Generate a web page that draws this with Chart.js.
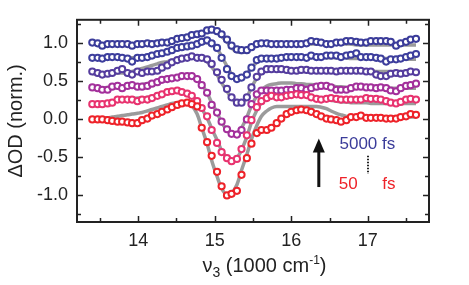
<!DOCTYPE html>
<html>
<head>
<meta charset="utf-8">
<script src="https://cdn.jsdelivr.net/npm/chart.js@4.4.1/dist/chart.umd.min.js"></script>
<style>
  html, body { margin: 0; background: #fff; }
  #wrap { width: 469px; height: 285px; }
</style>
</head>
<body>
<div id="wrap"><canvas id="chart"></canvas></div>
<script>
// wavenumber axis, 1000 cm-1
const wavenumbers = [13.40,13.47,13.53,13.60,13.66,13.73,13.79,13.86,13.92,13.99,
  14.05,14.12,14.18,14.25,14.31,14.38,14.44,14.51,14.57,14.64,
  14.70,14.77,14.83,14.90,14.96,15.03,15.09,15.16,15.22,15.29,
  15.35,15.42,15.48,15.55,15.61,15.68,15.74,15.81,15.87,15.94,
  16.00,16.07,16.13,16.20,16.26,16.33,16.39,16.46,16.52,16.59,
  16.65,16.72,16.78,16.85,16.91,16.98,17.04,17.11,17.17,17.24,
  17.30,17.37,17.43,17.50,17.56,17.63];

// measured traces (offset in the figure), bottom = 50 fs, top = 5000 fs
const trace50 = [-0.01,-0.01,-0.01,-0.02,-0.03,-0.04,-0.04,-0.05,-0.06,-0.06,
  -0.02,0.00,0.04,0.06,0.09,0.12,0.15,0.18,0.20,0.21,
  0.19,0.16,-0.12,-0.31,-0.49,-0.70,-0.89,-1.01,-0.99,-0.95,
  -0.74,-0.52,-0.33,-0.19,-0.15,-0.15,-0.12,-0.06,0.00,0.06,
  0.09,0.11,0.12,0.11,0.09,0.06,0.03,0.00,-0.01,-0.02,
  -0.04,-0.02,0.02,0.02,0.04,0.01,0.01,0.01,0.01,0.00,
  0.00,0.00,0.02,0.03,0.06,0.05];
const trace2 = [0.19,0.19,0.19,0.20,0.21,0.25,0.25,0.25,0.25,0.23,
  0.25,0.25,0.27,0.30,0.32,0.35,0.36,0.37,0.35,0.33,
  0.30,0.23,0.14,0.03,-0.15,-0.32,-0.44,-0.52,-0.56,-0.53,
  -0.40,-0.22,-0.02,0.15,0.23,0.27,0.30,0.28,0.28,0.30,
  0.31,0.32,0.31,0.31,0.28,0.26,0.25,0.26,0.27,0.26,
  0.25,0.25,0.25,0.25,0.25,0.27,0.26,0.26,0.25,0.23,
  0.21,0.20,0.22,0.25,0.26,0.25];
const trace3 = [0.41,0.40,0.38,0.38,0.42,0.43,0.40,0.43,0.44,0.42,
  0.42,0.43,0.46,0.48,0.51,0.52,0.53,0.54,0.56,0.56,
  0.56,0.52,0.44,0.34,0.18,0.08,-0.04,-0.14,-0.20,-0.21,
  -0.15,-0.01,0.19,0.32,0.37,0.37,0.37,0.37,0.37,0.38,
  0.38,0.40,0.40,0.38,0.40,0.42,0.43,0.43,0.41,0.38,
  0.38,0.38,0.40,0.42,0.42,0.41,0.41,0.40,0.41,0.40,
  0.37,0.36,0.40,0.43,0.44,0.46];
const trace4 = [0.62,0.60,0.58,0.59,0.60,0.63,0.65,0.60,0.58,0.62,
  0.60,0.62,0.62,0.63,0.67,0.70,0.74,0.77,0.79,0.80,
  0.82,0.80,0.80,0.78,0.72,0.61,0.51,0.39,0.28,0.21,
  0.21,0.28,0.41,0.55,0.62,0.65,0.65,0.65,0.65,0.64,
  0.63,0.63,0.64,0.64,0.63,0.63,0.63,0.63,0.63,0.62,
  0.63,0.63,0.63,0.63,0.63,0.62,0.62,0.58,0.56,0.56,
  0.59,0.60,0.59,0.60,0.62,0.61];
const trace5 = [0.80,0.80,0.79,0.81,0.81,0.81,0.80,0.79,0.75,0.80,
  0.80,0.81,0.83,0.85,0.86,0.88,0.90,0.93,0.94,0.95,
  0.96,0.98,1.01,1.03,0.99,0.93,0.80,0.65,0.56,0.52,
  0.54,0.58,0.67,0.77,0.79,0.79,0.79,0.79,0.80,0.81,
  0.81,0.81,0.81,0.80,0.83,0.81,0.81,0.83,0.83,0.83,
  0.81,0.83,0.84,0.86,0.81,0.81,0.81,0.80,0.79,0.75,
  0.78,0.78,0.79,0.81,0.83,0.85];
const trace5000 = [1.00,0.99,0.96,0.98,0.98,0.98,0.98,0.98,0.96,0.98,
  0.98,0.99,0.98,0.99,1.00,1.00,1.02,1.05,1.06,1.07,
  1.10,1.11,1.12,1.16,1.17,1.15,1.11,1.04,0.96,0.91,
  0.90,0.90,0.94,0.98,0.99,0.99,0.98,0.98,0.98,0.98,
  0.98,0.98,0.98,0.99,1.02,1.01,1.00,0.98,0.98,1.00,
  1.00,1.02,1.02,1.01,1.00,1.00,1.02,1.02,1.02,1.02,
  1.01,0.96,0.99,1.01,1.04,1.05];

// fitted curves (grey)
const fit50 = [0.00,0.00,0.01,0.01,0.02,0.03,0.04,0.05,0.06,0.07,
  0.08,0.10,0.12,0.14,0.16,0.18,0.20,0.21,0.22,0.21,
  0.17,0.06,-0.12,-0.33,-0.55,-0.76,-0.92,-1.00,-0.98,-0.87,
  -0.68,-0.47,-0.27,-0.09,0.03,0.10,0.14,0.16,0.16,0.16,
  0.16,0.16,0.16,0.16,0.16,0.16,0.15,0.13,0.10,0.07,
  0.05,0.03,0.02,0.02,0.02,0.02,0.02,0.02,0.02,0.02,
  0.02,0.02,0.02,0.02,0.02,0.02];
const fit2 = [0.19,0.19,0.20,0.21,0.22,0.23,0.24,0.25,0.26,0.27,
  0.27,0.28,0.29,0.31,0.33,0.35,0.36,0.37,0.36,0.34,
  0.30,0.23,0.13,0.01,-0.13,-0.28,-0.42,-0.51,-0.55,-0.52,
  -0.41,-0.24,-0.05,0.11,0.21,0.27,0.30,0.31,0.31,0.31,
  0.31,0.30,0.30,0.29,0.28,0.27,0.26,0.25,0.24,0.23,
  0.22,0.22,0.21,0.21,0.21,0.21,0.20,0.20,0.20,0.20,
  0.20,0.20,0.20,0.20,0.20,0.20];
const fit3 = [0.39,0.40,0.40,0.41,0.41,0.42,0.42,0.43,0.43,0.44,
  0.45,0.46,0.47,0.48,0.50,0.51,0.53,0.54,0.55,0.56,
  0.55,0.52,0.45,0.34,0.21,0.08,-0.05,-0.15,-0.20,-0.19,
  -0.12,0.02,0.17,0.30,0.38,0.43,0.45,0.46,0.47,0.47,
  0.47,0.46,0.46,0.45,0.45,0.44,0.44,0.43,0.43,0.42,
  0.42,0.41,0.41,0.40,0.40,0.40,0.40,0.40,0.40,0.40,
  0.40,0.40,0.40,0.40,0.40,0.40];
const fit4 = [0.59,0.59,0.59,0.59,0.60,0.60,0.60,0.61,0.62,0.64,
  0.66,0.68,0.70,0.72,0.74,0.75,0.77,0.78,0.79,0.80,
  0.80,0.80,0.79,0.75,0.68,0.58,0.47,0.36,0.27,0.21,
  0.21,0.28,0.41,0.53,0.60,0.63,0.64,0.64,0.64,0.64,
  0.64,0.64,0.64,0.64,0.64,0.64,0.63,0.63,0.63,0.63,
  0.63,0.63,0.63,0.63,0.63,0.63,0.63,0.62,0.62,0.62,
  0.62,0.62,0.62,0.62,0.62,0.62];
const fit5 = [0.79,0.79,0.79,0.80,0.80,0.80,0.80,0.80,0.80,0.81,
  0.81,0.82,0.83,0.84,0.86,0.87,0.89,0.91,0.93,0.95,
  0.96,0.98,0.99,1.00,0.98,0.92,0.82,0.69,0.59,0.54,
  0.54,0.59,0.67,0.74,0.78,0.80,0.80,0.80,0.80,0.80,
  0.80,0.80,0.80,0.80,0.80,0.80,0.80,0.80,0.80,0.80,
  0.80,0.80,0.79,0.79,0.79,0.79,0.79,0.79,0.79,0.79,
  0.78,0.78,0.78,0.78,0.78,0.78];
const fit5000 = [0.99,0.99,0.98,0.98,0.98,0.98,0.98,0.98,0.98,0.98,
  0.98,0.99,0.99,1.00,1.00,1.01,1.02,1.04,1.05,1.07,
  1.09,1.11,1.13,1.15,1.15,1.13,1.08,1.01,0.93,0.88,
  0.87,0.88,0.92,0.96,0.98,0.98,0.98,0.98,0.98,0.98,
  0.98,0.98,0.98,0.98,0.98,0.98,0.98,0.98,0.98,0.98,
  0.98,0.98,0.98,0.97,0.97,0.97,0.97,0.97,0.97,0.97,
  0.97,0.97,0.97,0.97,0.97,0.97];

const traces = [trace50, trace2, trace3, trace4, trace5, trace5000];
const fits = [fit50, fit2, fit3, fit4, fit5, fit5000];
const traceColors = ['#ee2229', '#e8336f', '#a3309b', '#553d9e', '#3d3e9d', '#3b3c9a'];

const xMajorTicks = [14, 15, 16, 17];
const xMinorTicks = [13.5, 14.5, 15.5, 16.5, 17.5];
const yMajorTicks = [-1.0, -0.5, 0.0, 0.5, 1.0];
const yMinorTicks = [-1.25, -0.75, -0.25, 0.25, 0.75, 1.25];

const FONT = '"Liberation Sans", Arial, sans-serif';
const INK = '#222';

function toPoints(values) {
  return values.map((v, i) => ({ x: wavenumbers[i], y: v }));
}

const datasets = [];
fits.forEach((fit) => {
  datasets.push({
    data: toPoints(fit),
    showLine: true,
    borderColor: '#9b9b9b',
    borderWidth: 3.5,
    pointRadius: 0,
    cubicInterpolationMode: 'monotone',
    order: 10,
  });
});
traces.forEach((trace, k) => {
  datasets.push({
    data: toPoints(trace),
    showLine: false,
    pointRadius: 3.1,
    pointBorderWidth: 2,
    pointBorderColor: traceColors[k],
    pointBackgroundColor: '#ffffff',
    order: 1,
  });
});

// box with inward ticks on all four sides
const framePlugin = {
  id: 'frame',
  afterDatasetsDraw(chart) {
    const { ctx, chartArea: a, scales: { x, y } } = chart;
    ctx.save();
    ctx.strokeStyle = INK;
    ctx.lineWidth = 2;
    ctx.strokeRect(a.left, a.top, a.right - a.left, a.bottom - a.top);
    ctx.lineWidth = 1.5;
    ctx.beginPath();
    const xt = (v, len) => {
      const px = Math.round(x.getPixelForValue(v)) + 0.5;
      ctx.moveTo(px, a.bottom); ctx.lineTo(px, a.bottom - len);
      ctx.moveTo(px, a.top); ctx.lineTo(px, a.top + len);
    };
    const yt = (v, len) => {
      const py = Math.round(y.getPixelForValue(v)) + 0.5;
      ctx.moveTo(a.left, py); ctx.lineTo(a.left + len, py);
      ctx.moveTo(a.right, py); ctx.lineTo(a.right - len, py);
    };
    xMajorTicks.forEach((v) => xt(v, 6));
    xMinorTicks.forEach((v) => xt(v, 4));
    yMajorTicks.forEach((v) => yt(v, 6));
    yMinorTicks.forEach((v) => yt(v, 4));
    ctx.stroke();
    ctx.restore();
  },
};

// delay annotation, arrow, and x title with sub/superscripts
const notePlugin = {
  id: 'notes',
  afterDraw(chart) {
    const { ctx, scales: { x, y } } = chart;
    ctx.save();
    ctx.textBaseline = 'alphabetic';
    ctx.font = `17px ${FONT}`;
    ctx.fillStyle = '#3b3c9a';
    ctx.fillText('5000 fs', x.getPixelForValue(16.63), y.getPixelForValue(-0.40));
    ctx.fillStyle = '#ee2229';
    ctx.fillText('50', x.getPixelForValue(16.62), y.getPixelForValue(-0.93));
    ctx.fillText('fs', x.getPixelForValue(17.19), y.getPixelForValue(-0.93));

    // dotted line between labels
    ctx.strokeStyle = INK;
    ctx.lineWidth = 2;
    ctx.setLineDash([1.5, 1.5]);
    ctx.beginPath();
    const dx = Math.round(x.getPixelForValue(17.0));
    ctx.moveTo(dx, y.getPixelForValue(-0.49));
    ctx.lineTo(dx, y.getPixelForValue(-0.73));
    ctx.stroke();
    ctx.setLineDash([]);

    // arrow
    const ax = x.getPixelForValue(16.36);
    const tip = y.getPixelForValue(-0.26);
    const base = y.getPixelForValue(-0.90);
    ctx.fillStyle = '#111';
    ctx.fillRect(ax - 1.5, tip + 10, 3, base - tip - 10);
    ctx.beginPath();
    ctx.moveTo(ax, tip);
    ctx.lineTo(ax - 6, tip + 14);
    ctx.lineTo(ax + 6, tip + 14);
    ctx.closePath();
    ctx.fill();

    // x title: ν3 (1000 cm-1)
    const parts = [
      { t: '\u03bd', size: 20, dy: 0 },
      { t: '3', size: 14, dy: 5 },
      { t: ' (1000 cm', size: 20, dy: 0 },
      { t: '-1', size: 12, dy: -8 },
      { t: ')', size: 20, dy: 0 },
    ];
    let total = 0;
    parts.forEach((p) => { ctx.font = `${p.size}px ${FONT}`; p.w = ctx.measureText(p.t).width; total += p.w; });
    let cx = x.getPixelForValue(15.65) - total / 2;
    const baseY = 272;
    ctx.fillStyle = INK;
    parts.forEach((p) => {
      ctx.font = `${p.size}px ${FONT}`;
      ctx.fillText(p.t, cx, baseY + p.dy);
      cx += p.w;
    });
    ctx.restore();
  },
};

new Chart(document.getElementById('chart'), {
  type: 'scatter',
  data: { datasets },
  options: {
    responsive: true,
    maintainAspectRatio: false,
    animation: false,
    layout: { padding: { top: 7, right: 40, left: 0, bottom: 0 } },
    plugins: { legend: { display: false }, tooltip: { enabled: false } },
    scales: {
      x: {
        type: 'linear',
        min: 13.2,
        max: 17.8,
        afterBuildTicks(scale) { scale.ticks = xMajorTicks.map((v) => ({ value: v })); },
        afterFit(scale) { scale.height = 63; },
        ticks: { color: INK, font: { family: FONT, size: 18 }, padding: 8, maxRotation: 0 },
        grid: { display: false, drawTicks: false },
        border: { display: false },
      },
      y: {
        min: -1.36,
        max: 1.3,
        afterBuildTicks(scale) { scale.ticks = yMajorTicks.map((v) => ({ value: v })); },
        afterFit(scale) { scale.width = 77; },
        ticks: {
          color: INK,
          font: { family: FONT, size: 18 },
          padding: 9,
          callback(value) { return Number(value).toFixed(1); },
        },
        title: {
          display: true,
          text: '\u0394OD (norm.)',
          color: INK,
          font: { family: FONT, size: 20 },
          padding: { top: 4, bottom: 0 },
        },
        grid: { display: false, drawTicks: false },
        border: { display: false },
      },
    },
  },
  plugins: [framePlugin, notePlugin],
});
</script>
</body>
</html>
